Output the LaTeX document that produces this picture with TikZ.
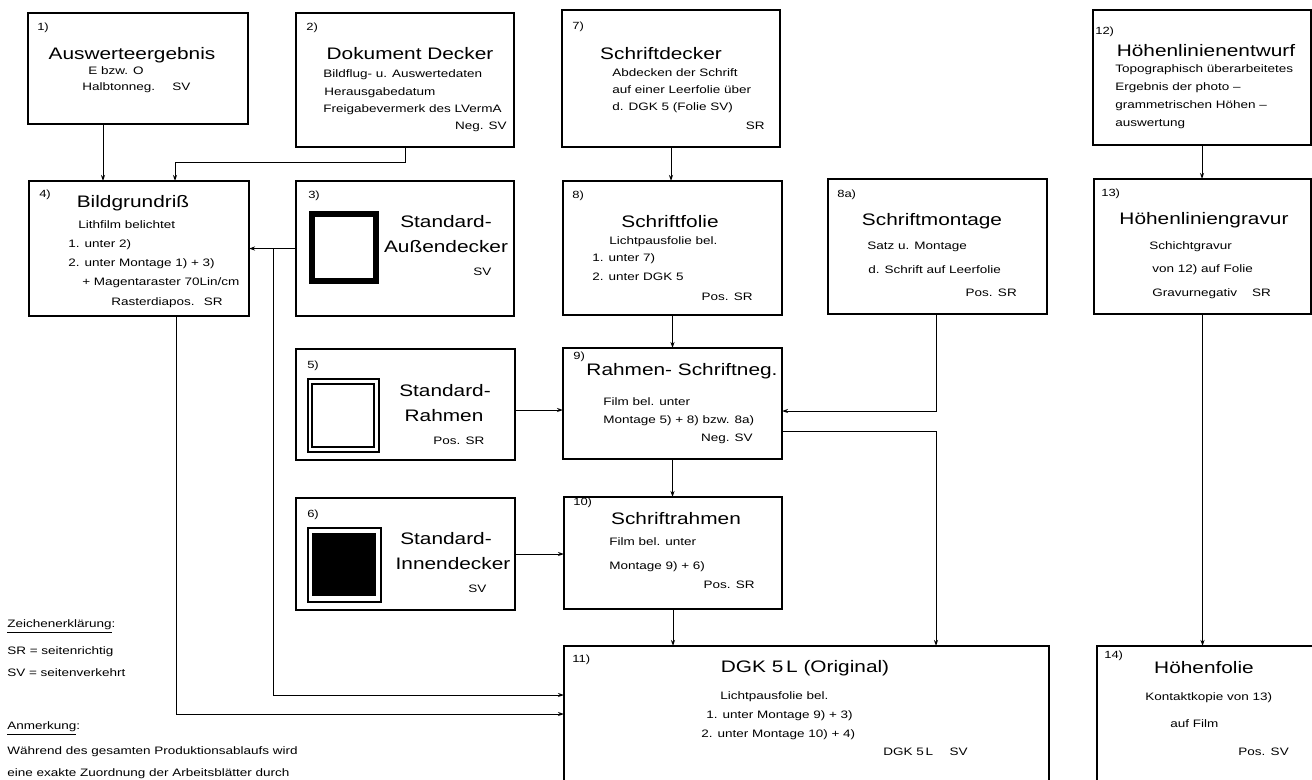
\documentclass[tikz,border=0pt]{standalone}
\usepackage{fontspec}
\setmainfont{Liberation Sans}[FakeStretch=1.25]
\usetikzlibrary{arrows.meta}

\begin{document}
\begin{tikzpicture}
    \tikzset{
        x={(0.75pt,0pt)},
        y={(0pt,-0.75pt)},
        box/.style={draw,line width=1.2pt,inner sep=0pt,outer sep=0pt},
        boxsz/.style 2 args={minimum width=#1*0.75pt,minimum height=#2*0.75pt},
        num/.style={anchor=west,inner sep=0pt,font=\fontsize{7.8}{9}\selectfont},
        ttl/.style={inner sep=0pt,text height=9pt,text depth=2.5pt,
            font=\fontsize{12.5}{15}\selectfont},
        sub/.style={anchor=west,inner sep=0pt,text height=5.8pt,text depth=1.5pt,
            font=\fontsize{8.1}{10}\selectfont},
        subr/.style={sub,anchor=east},
        conn/.style={line width=0.75pt,-{Stealth[length=4.5pt,width=3pt]}},
    }
    \useasboundingbox (0,0) rectangle (1312,779);
    \clip (0,0) rectangle (1312,779);
    \foreach \n/\x/\y/\w/\h in {
        b1/138/68.5/220/111, b2/405/80/218/134, b7/671/78.5/218/137, b12/1202/77.5/218/135,
        b4/139/248.5/220/135, b3/405/248.5/218/135, b8/672.5/248/219/134,
        b8a/937.5/246.5/219/135, b13/1202.5/246.5/217/135,
        b5/405.5/404.5/219/111, b9/672.5/403.5/219/111,
        b6/405.5/554/219/112, b10/673/553/218/112,
        b11/806.5/723/485/154, b14/1208.5/723/223/154
    }
        \node[box,boxsz={\w}{\h}] (\n) at (\x,\y) {};
    % deckerbilder
    \draw[line width=4.5pt] (312,214) rectangle (376,281);
    \draw[line width=0.8pt] (308,379) rectangle (379,452) (312,384) rectangle (374,447);
    \draw[line width=0.8pt] (308,528) rectangle (381,602);
    \fill (312,533) rectangle (376,596);
    % nummern
    \foreach \x/\y/\t [count=\i] in {
        37/28/1), 306/28/2), 572/27/7), 1095/32/12), 39/195/4), 308/196/3),
        572/196/8), 837/195/8a), 1101/194/13), 307/366/5), 573/357/9),
        307/515/6), 573/503/10), 572/660/11), 1104/656/14)
    }
        \node[num] (n\i) at (\x,\y) {\t};
    % titel
    \foreach \x/\y/\t [count=\i] in {
        132/55/Auswerteergebnis, 410/55/Dokument Decker, 661/55/Schriftdecker,
        1206/52/Höhenlinienentwurf, 133/203/Bildgrundriß, 446/223/Standard-,
        446/248/Außendecker, 670/223/Schriftfolie, 932/221/Schriftmontage,
        1204/220/Höhenliniengravur, 445/392/Standard-, 444/417/Rahmen,
        682/371/Rahmen- Schriftneg., 446/540/Standard-, 453/565/Innendecker,
        676/520/Schriftrahmen, 805/668/{DGK 5\,L (Original)}, 1204/669/Höhenfolie
    }
        \node[ttl] (t\i) at (\x,\y) {\t};
    % texte
    \foreach \x/\y/\t [count=\i] in {
        88/72/{E bzw. O}, 82/88/Halbtonneg., 172/88/SV,
        323/75/{Bildflug- u. Auswertedaten}, 324/93/Herausgabedatum,
        323/110/{Freigabevermerk des LVermA},
        612/74/{Abdecken der Schrift}, 612/91/{auf einer Leerfolie über},
        612/108/{d. DGK 5 (Folie SV)},
        1115/70/{Topographisch überarbeitetes}, 1115/88/{Ergebnis der photo --},
        1115/106/{grammetrischen Höhen --}, 1115/124/auswertung,
        78/226/{Lithfilm belichtet}, 68/245/{1. unter 2)},
        68/264/{2. unter Montage 1) + 3)}, 82/283/{+ Magentaraster 70Lin/cm},
        111/303/Rasterdiapos., 473/273/SV,
        609/242/{Lichtpausfolie bel.}, 592/259/{1. unter 7)}, 592/278/{2. unter DGK 5},
        867/247/{Satz u. Montage}, 868/271/{d. Schrift auf Leerfolie},
        1149/247/Schichtgravur, 1152/270/{von 12) auf Folie}, 1152/294/Gravurnegativ,
        433/442/{Pos.\enspace SR}, 468/590/SV,
        603/403/{Film bel. unter}, 603/421/{Montage 5) + 8) bzw. 8a)},
        609/543/{Film bel. unter}, 609/567/{Montage 9) + 6)},
        720/697/{Lichtpausfolie bel.}, 706/716/{1. unter Montage 9) + 3)},
        701/735/{2. unter Montage 10) + 4)}, 883/753/{DGK 5\,L},
        1145/698/{Kontaktkopie von 13)}, 1170/725/{auf Film},
        7/625/{\underline{Zeichenerklärung}:}, 7/652/{SR = seitenrichtig},
        7/674/{SV = seitenverkehrt}, 7/727/{\underline{Anmerkung}:},
        7/752/{Während des gesamten Produktionsablaufs wird},
        7/774/{eine exakte Zuordnung der Arbeitsblätter durch}
    }
        \node[sub] (s\i) at (\x,\y) {\t};
    \foreach \x/\y/\t [count=\i] in {
        507/127/{Neg. SV}, 765/127/SR, 223/303/SR, 753/298/{Pos.\enspace SR},
        1017/294/{Pos.\enspace SR}, 1271/294/SR, 753/439/{Neg. SV},
        755/586/{Pos.\enspace SR}, 968/753/SV, 1289/753/{Pos.\enspace SV}
    }
        \node[subr] (r\i) at (\x,\y) {\t};
    % verbindungen
    \coordinate (k1) at (103,0);
    \coordinate (k2) at (175,162);
    \coordinate (k3) at (273,695);
    \coordinate (k4) at (176,714);
    \coordinate (k5) at (936,411);
    \coordinate (k6) at (936,431);
    \coordinate (k7) at (0,410);
    \draw[conn] (b1.south -| k1) -- (b4.north -| k1);
    \draw[conn] (b2.south) |- (k2) -- (k2 |- b4.north);
    \draw[conn] (b3.west) -- (b3.west -| b4.east);
    \draw[conn] (k3 |- b3.west) -- (k3) -- (k3 -| b11.west);
    \draw[conn] (k4 |- b4.south) -- (k4) -- (k4 -| b11.west);
    \draw[conn] (b7.south) -- (b7.south |- b8.north);
    \draw[conn] (b8.south) -- (b8.south |- b9.north);
    \draw[conn] (b8a.south -| k5) -- (k5) -- (k5 -| b9.east);
    \draw[conn] (k6 -| b9.east) -- (k6) -- (k6 |- b11.north);
    \draw[conn] (b5.east |- k7) -- (b9.west |- k7);
    \draw[conn] (b6.east) -- (b6.east -| b10.west);
    \draw[conn] (b9.south) -- (b9.south |- b10.north);
    \draw[conn] (b10.south) -- (b10.south |- b11.north);
    \draw[conn] (b12.south) -- (b12.south |- b13.north);
    \draw[conn] (b13.south) -- (b13.south |- b14.north);
\end{tikzpicture}
\end{document}
